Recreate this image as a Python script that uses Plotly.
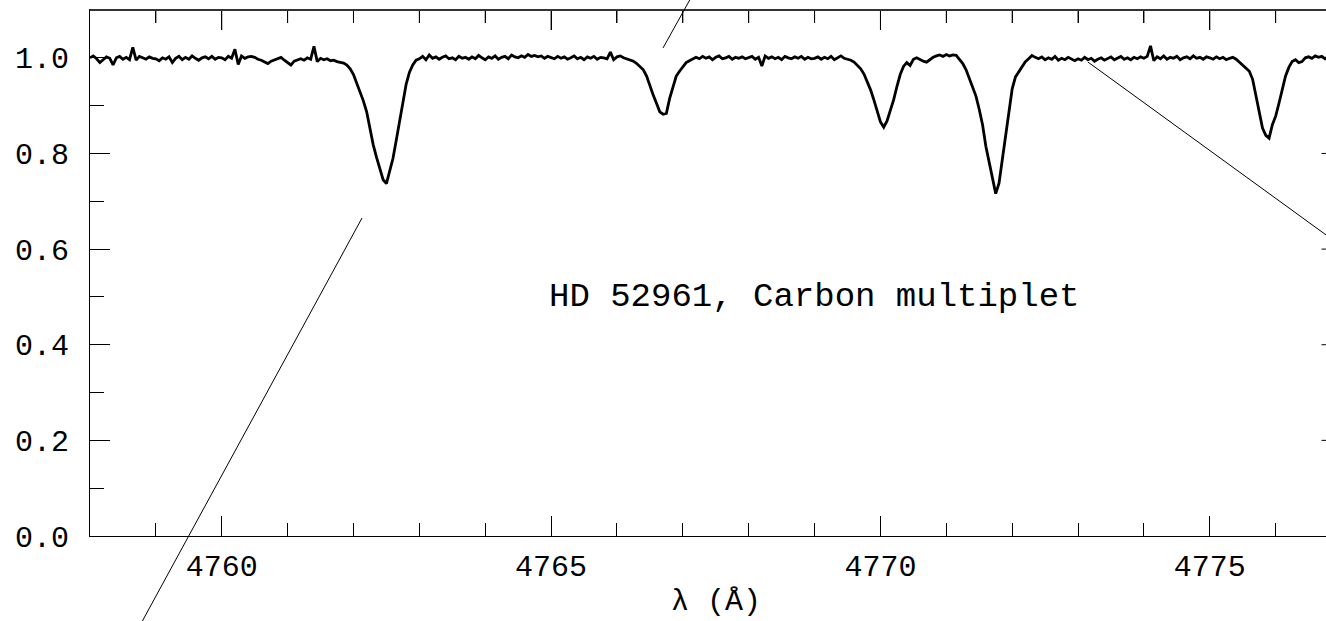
import numpy as np
import plotly.graph_objects as go

# Wavelength grid (Angstrom), 0.05 A steps from 4758.00 to 4777.00
wl_start = 4758.0
wl_step = 0.05

# Normalised flux, 20 samples per Angstrom
flux_4758 = [1.000, 1.004, 0.998, 0.990, 0.996, 1.002, 0.999, 0.985, 1.000, 1.003,
             0.997, 1.001, 0.996, 1.022, 0.995, 1.003, 1.000, 0.997, 1.002, 0.999]
flux_4759 = [0.998, 0.994, 1.000, 0.997, 1.002, 0.990, 0.999, 1.003, 0.996, 1.001,
             0.997, 1.004, 0.999, 0.995, 1.000, 1.002, 0.998, 1.003, 0.997, 1.001]
flux_4760 = [1.000, 0.996, 1.003, 0.999, 1.018, 0.986, 1.004, 0.999, 1.002, 1.003,
             1.001, 0.997, 0.995, 0.991, 0.988, 0.993, 0.996, 0.999, 1.001, 0.995]
flux_4761 = [0.990, 0.985, 0.993, 0.996, 0.998, 0.995, 1.000, 0.997, 1.024, 0.992,
             0.999, 0.996, 0.998, 0.994, 0.995, 0.992, 0.990, 0.989, 0.985, 0.977]
flux_4762 = [0.965, 0.947, 0.928, 0.910, 0.887, 0.850, 0.818, 0.792, 0.768, 0.745,
             0.737, 0.762, 0.790, 0.828, 0.868, 0.905, 0.945, 0.970, 0.985, 0.995]
flux_4763 = [0.998, 1.003, 0.996, 1.006, 0.999, 1.002, 0.997, 1.001, 1.004, 0.998,
             1.000, 0.996, 1.003, 0.999, 1.001, 0.997, 1.002, 0.998, 1.005, 1.000]
flux_4764 = [0.996, 1.002, 0.999, 1.004, 0.997, 1.001, 1.003, 0.998, 1.006, 1.002,
             1.000, 1.004, 1.001, 1.007, 1.003, 1.005, 1.002, 1.004, 0.999, 1.003]
flux_4765 = [1.001, 0.998, 1.003, 0.999, 1.002, 0.997, 1.000, 1.004, 0.998, 1.001,
             0.996, 1.002, 0.999, 1.003, 0.997, 1.001, 1.000, 0.998, 1.012, 0.996]
flux_4766 = [1.002, 1.004, 1.000, 0.998, 0.996, 0.993, 0.988, 0.982, 0.975, 0.962,
             0.940, 0.922, 0.905, 0.887, 0.882, 0.884, 0.915, 0.940, 0.962, 0.972]
flux_4767 = [0.982, 0.990, 0.994, 0.997, 1.001, 0.998, 1.003, 0.999, 1.002, 0.996,
             1.001, 1.004, 0.998, 1.000, 1.003, 0.997, 1.001, 0.999, 1.002, 0.998]
flux_4768 = [1.000, 1.003, 0.997, 1.001, 0.983, 1.004, 0.999, 1.002, 0.998, 1.001,
             0.996, 1.003, 1.000, 0.998, 1.002, 0.999, 1.003, 0.997, 1.001, 0.998]
flux_4769 = [0.999, 1.002, 0.997, 1.001, 0.998, 1.003, 0.996, 1.000, 1.004, 0.999,
             0.997, 0.995, 0.991, 0.985, 0.977, 0.966, 0.950, 0.933, 0.912, 0.888]
flux_4770 = [0.866, 0.855, 0.868, 0.890, 0.912, 0.940, 0.965, 0.982, 0.990, 0.984,
             0.997, 1.000, 0.996, 0.993, 0.991, 0.996, 1.001, 1.004, 1.006, 1.003]
flux_4771 = [1.007, 1.004, 1.006, 1.005, 0.996, 0.988, 0.975, 0.958, 0.940, 0.920,
             0.892, 0.860, 0.815, 0.780, 0.748, 0.716, 0.738, 0.788, 0.840, 0.890]
flux_4772 = [0.935, 0.960, 0.971, 0.982, 0.992, 0.998, 1.005, 1.001, 0.998, 1.002,
             0.996, 1.000, 0.997, 1.003, 0.995, 0.999, 0.996, 1.001, 0.997, 0.994]
flux_4773 = [0.998, 0.995, 1.001, 0.996, 0.999, 0.993, 0.997, 1.000, 0.995, 0.998,
             1.002, 0.996, 0.999, 1.003, 0.997, 1.000, 0.996, 1.001, 0.998, 1.002]
flux_4774 = [0.999, 1.003, 1.025, 0.994, 1.002, 0.998, 1.004, 0.997, 1.001, 0.999,
             1.003, 0.996, 1.000, 1.002, 0.998, 1.004, 0.999, 1.001, 0.997, 1.002]
flux_4775 = [1.000, 0.997, 1.002, 0.998, 1.001, 0.996, 0.999, 1.001, 0.997, 0.991,
             0.985, 0.979, 0.972, 0.955, 0.922, 0.885, 0.853, 0.838, 0.832, 0.860]
flux_4776 = [0.878, 0.905, 0.935, 0.962, 0.980, 0.992, 0.996, 0.990, 0.992, 1.000,
             1.002, 0.999, 1.004, 1.001, 1.003, 0.998, 1.002, 0.999, 1.001, 0.998]
flux_4777 = [1.000]

flux = (flux_4758 + flux_4759 + flux_4760 + flux_4761 + flux_4762 + flux_4763 +
        flux_4764 + flux_4765 + flux_4766 + flux_4767 + flux_4768 + flux_4769 +
        flux_4770 + flux_4771 + flux_4772 + flux_4773 + flux_4774 + flux_4775 +
        flux_4776 + flux_4777)
wavelength = wl_start + wl_step * np.arange(len(flux))

x_ticks = [4760, 4765, 4770, 4775]
x_minor_ticks = [4759, 4761, 4762, 4763, 4764, 4766, 4767, 4768, 4769,
                 4771, 4772, 4773, 4774, 4776]
y_ticks = [0.0, 0.2, 0.4, 0.6, 0.8, 1.0]
y_tick_labels = ["0.0", "0.2", "0.4", "0.6", "0.8", "1.0"]

title_text = "HD 52961, Carbon multiplet"
x_title = "λ (Å)"

FONT = "Liberation Mono, DejaVu Sans Mono, monospace"
X_RANGE = [4758, 4776.764]
Y_RANGE = [0, 1.1]
PLOT_H = 526.0   # plot-area height in px (621 - 10 - 85)
PLOT_W = 1236.0  # plot-area width in px (1326 - 90)
Y_PER_PX = (Y_RANGE[1] - Y_RANGE[0]) / PLOT_H
X_PER_PX = (X_RANGE[1] - X_RANGE[0]) / PLOT_W


def vertical_ticks(values, y_from, y_to):
    xs, ys = [], []
    for v in values:
        xs += [v, v, None]
        ys += [y_from, y_to, None]
    return xs, ys


def horizontal_ticks(values, x_from, x_to):
    xs, ys = [], []
    for v in values:
        xs += [x_from, x_to, None]
        ys += [v, v, None]
    return xs, ys


fig = go.Figure()
fig.add_trace(go.Scatter(x=wavelength, y=flux, mode="lines",
                         line=dict(color="black", width=2.8),
                         showlegend=False, hoverinfo="skip"))

# ticks along the top edge
top = Y_RANGE[1]
tx, ty = vertical_ticks(x_ticks, top, top - 20 * Y_PER_PX)
fig.add_trace(go.Scatter(x=tx, y=ty, mode="lines", line=dict(color="black", width=1),
                         showlegend=False, hoverinfo="skip"))
tx, ty = vertical_ticks(x_minor_ticks, top, top - 13 * Y_PER_PX)
fig.add_trace(go.Scatter(x=tx, y=ty, mode="lines", line=dict(color="black", width=1),
                         showlegend=False, hoverinfo="skip"))
# stubs of the right-hand axis ticks (that axis lies just outside the frame)
right = X_RANGE[1]
tx, ty = horizontal_ticks(y_ticks[1:], right - 4.5 * X_PER_PX, right)
fig.add_trace(go.Scatter(x=tx, y=ty, mode="lines", line=dict(color="black", width=1),
                         showlegend=False, hoverinfo="skip"))

fig.update_layout(
    width=1326, height=621,
    margin=dict(l=90, r=0, t=10, b=85),
    paper_bgcolor="white", plot_bgcolor="white",
    font=dict(family=FONT, size=30, color="black"),
    xaxis=dict(range=X_RANGE, showgrid=False, zeroline=False,
               showline=True, linecolor="black", linewidth=1, mirror="allticks",
               ticks="inside", ticklen=20, tickwidth=1, tickcolor="black",
               tickvals=x_ticks, ticklabelstandoff=3,
               tickfont=dict(family=FONT, size=30),
               minor=dict(ticks="inside", ticklen=13, tickvals=x_minor_ticks,
                          tickcolor="black", tickwidth=1, showgrid=False)),
    yaxis=dict(range=Y_RANGE, showgrid=False, zeroline=False,
               showline=True, linecolor="black", linewidth=1,
               ticks="inside", ticklen=20, tickwidth=1, tickcolor="black",
               tickvals=y_ticks, ticktext=y_tick_labels, ticklabelstandoff=14,
               tickfont=dict(family=FONT, size=30),
               minor=dict(ticks="inside", ticklen=14, dtick=0.1, tick0=0,
                          tickcolor="black", tickwidth=1, showgrid=False)),
)

# top frame line
fig.add_shape(type="line", xref="paper", yref="paper", x0=0, x1=1.02, y0=1, y1=1,
              line=dict(color="#333333", width=2))

fig.add_annotation(x=4769.0, y=0.5, xref="x", yref="y", text=title_text,
                   showarrow=False, font=dict(family=FONT, size=34, color="black"))
fig.add_annotation(x=4767.5, y=-0.125, xref="x", yref="paper", text=x_title,
                   showarrow=False, yanchor="middle",
                   font=dict(family=FONT, size=30, color="black"))

# thin guide lines crossing the figure
guide_lines = [
    (0.2201, 0.6046, 0.0340, -0.1977),
    (0.4636, 0.9278, 0.4870, 1.0266),
    (0.8074, 0.9011, 1.0113, 0.5532),
]
for x0, y0, x1, y1 in guide_lines:
    fig.add_shape(type="line", xref="paper", yref="paper", x0=x0, y0=y0, x1=x1, y1=y1,
                  line=dict(color="black", width=1))

fig.write_html("out.html")
